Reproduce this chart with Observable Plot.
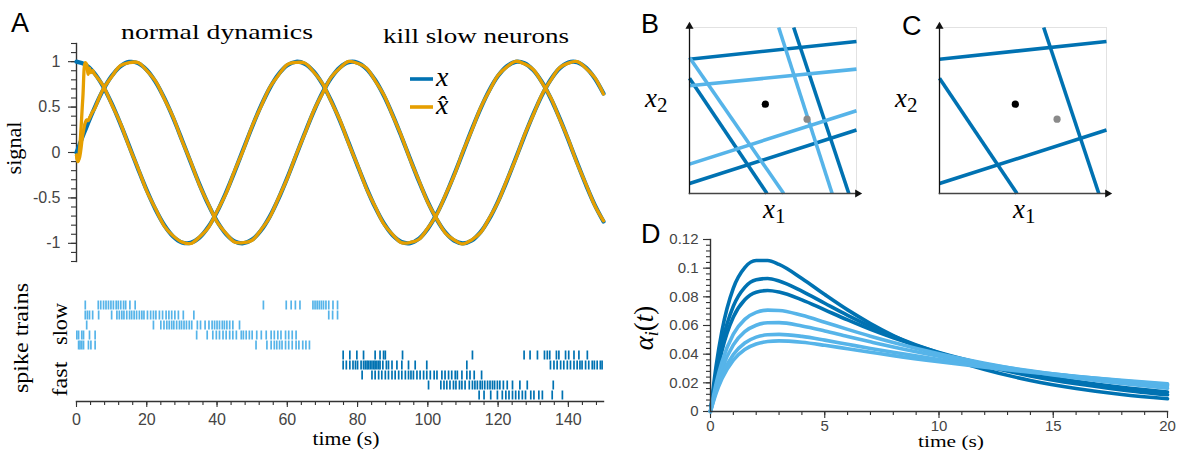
<!DOCTYPE html>
<html>
<head>
<meta charset="utf-8">
<script src="https://cdn.jsdelivr.net/npm/d3@7"></script>
<script src="https://cdn.jsdelivr.net/npm/@observablehq/plot@0.6"></script>
<style>
  body { margin: 0; background: #fff; }
  #fig { position: relative; width: 1181px; height: 450px; overflow: hidden; background: #fff; }
</style>
</head>
<body>
<div id="fig"></div>
<script>
// ---------- Panel A: signal and its readout ----------
const tSig = [0, 2.5, 5, 7.5, 10, 12.5, 15, 17.5, 20, 22.5, 25, 27.5, 30, 32.5, 35, 37.5, 40, 42.5, 45, 47.5,
  50, 52.5, 55, 57.5, 60, 62.5, 65, 67.5, 70, 72.5, 75, 77.5, 80, 82.5, 85, 87.5, 90, 92.5, 95, 97.5,
  100, 102.5, 105, 107.5, 110, 112.5, 115, 117.5, 120, 122.5, 125, 127.5, 130, 132.5, 135, 137.5, 140, 142.5, 145, 147.5, 150];

// x, first component
const xCos = [1, 0.969, 0.878, 0.732, 0.540, 0.315, 0.071, -0.178, -0.416, -0.628, -0.801, -0.924, -0.990, -0.994, -0.937, -0.821,
  -0.654, -0.446, -0.211, 0.038, 0.284, 0.512, 0.709, 0.861, 0.960, 0.999, 0.977, 0.893, 0.754, 0.568, 0.347, 0.104,
  -0.146, -0.386, -0.602, -0.781, -0.911, -0.985, -0.997, -0.948, -0.839, -0.678, -0.476, -0.243, 0.004, 0.252, 0.483,
  0.685, 0.844, 0.950, 0.998, 0.983, 0.907, 0.775, 0.595, 0.378, 0.137, -0.113, -0.355, -0.576, -0.760];
// x, second component
const xSin = [0, 0.247, 0.479, 0.682, 0.841, 0.949, 0.997, 0.984, 0.909, 0.778, 0.598, 0.382, 0.141, -0.108, -0.351, -0.572,
  -0.757, -0.895, -0.978, -0.999, -0.959, -0.859, -0.706, -0.508, -0.279, -0.033, 0.215, 0.450, 0.657, 0.823, 0.938, 0.995,
  0.989, 0.923, 0.798, 0.625, 0.412, 0.174, -0.075, -0.320, -0.544, -0.735, -0.880, -0.970, -1.000, -0.968, -0.876,
  -0.729, -0.537, -0.312, -0.066, 0.183, 0.420, 0.632, 0.804, 0.926, 0.991, 0.994, 0.935, 0.818, 0.650];

// network readout x-hat (initial transient, then tracking)
const tHat = [0, 0.4, 0.9, 1.8, 2.5, 2.9, 3.3, 3.7, 4.1, 4.6, 5, 7.5, 10, 12.5, 15, 17.5, 20, 22.5, 25, 27.5, 30, 32.5, 35, 37.5,
  40, 42.5, 45, 47.5, 50, 52.5, 55, 57.5, 60, 62.5, 65, 67.5, 70, 72.5, 75, 77.5, 80, 82.5, 85, 87.5, 90, 92.5, 95, 97.5,
  100, 102.5, 105, 107.5, 110, 112.5, 115, 117.5, 120, 122.5, 125, 127.5, 130, 132.5, 135, 137.5, 140, 142.5, 145, 147.5, 150];
const hatCos = [-0.03, -0.10, 0.05, 0.60, 0.99, 0.97, 0.86, 0.93, 0.88, 0.90,
  0.872, 0.741, 0.531, 0.322, 0.062, -0.171, -0.425, -0.620, -0.810, -0.918, -0.985, -1.002, -0.930, -0.829, -0.646,
  -0.455, -0.203, 0.030, 0.291, 0.505, 0.716, 0.853, 0.968, 0.992, 0.984, 0.886, 0.761, 0.560, 0.355, 0.096, -0.139,
  -0.394, -0.595, -0.789, -0.904, -0.992, -0.990, -0.955, -0.832, -0.686, -0.469, -0.251, 0.011, 0.244, 0.490, 0.678,
  0.851, 0.943, 1.004, 0.976, 0.914, 0.768, 0.602, 0.371, 0.144, -0.120, -0.348, -0.583, -0.752];
const hatSin = [-0.03, -0.10, -0.05, 0.20, 0.33, 0.36, 0.35, 0.38, 0.41, 0.45,
  0.471, 0.690, 0.834, 0.956, 0.990, 0.991, 0.902, 0.785, 0.591, 0.389, 0.134, -0.101, -0.358, -0.565, -0.764,
  -0.888, -0.985, -0.993, -0.966, -0.852, -0.713, -0.501, -0.286, -0.026, 0.208, 0.457, 0.650, 0.830, 0.931, 1.002,
  0.982, 0.930, 0.791, 0.632, 0.405, 0.181, -0.082, -0.313, -0.551, -0.728, -0.887, -0.963, -1.007, -0.961, -0.883,
  -0.722, -0.544, -0.305, -0.073, 0.190, 0.413, 0.639, 0.797, 0.933, 0.984, 1.001, 0.928, 0.825, 0.643];

const signalTicks = [-1, -0.5, 0, 0.5, 1];

// spike times (s), one array per neuron, slow population first
const slow1 = [2.5, 6.2, 6.9, 7.7, 8.4, 9.1, 9.8, 10.5, 11.3, 11.9, 12.6, 13.4, 14.0, 15.2, 16.7, 53.2, 59.7, 61.1, 62.3,
  63.6, 67.3, 67.9, 68.5, 69.1, 69.7, 70.3, 71.0, 71.8, 73.0, 74.3];
const slow2 = [2.5, 3.1, 3.7, 4.6, 6.3, 10.0, 11.5, 12.2, 12.9, 13.5, 14.3, 15.1, 15.7, 16.4, 17.1, 17.9, 18.6, 19.2, 20.2,
  21.1, 21.9, 22.6, 23.6, 24.5, 25.5, 26.3, 27.1, 28.0, 29.0, 30.4, 33.4, 71.8, 72.9, 74.3];
const slow3 = [2.9, 21.9, 24.0, 24.9, 25.7, 26.4, 27.1, 27.7, 28.5, 29.3, 29.9, 30.6, 31.3, 32.1, 32.8, 34.4, 35.3, 36.6,
  37.7, 38.6, 39.3, 40.0, 40.7, 41.5, 42.1, 42.8, 43.6, 44.5, 46.4];
const slow4 = [0.1, 0.6, 1.5, 2.0, 3.7, 5.3, 34.2, 37.2, 38.8, 39.8, 40.7, 41.7, 42.6, 43.6, 44.5, 45.5, 46.9, 47.5, 48.3,
  49.2, 50.0, 51.3, 52.6, 54.0, 55.4, 56.3, 57.3, 58.2, 59.5, 60.4, 61.4, 62.5];
const slow5 = [0.6, 1.0, 1.5, 2.0, 3.4, 4.1, 5.3, 51.1, 54.2, 55.4, 56.3, 57.0, 57.8, 58.5, 59.5, 60.4, 61.4, 62.5, 63.3,
  64.4, 65.3, 66.3];
const fast1 = [75.9, 77.8, 79.8, 81.7, 85.0, 86.4, 87.4, 87.9, 92.8, 112.7, 127.4, 129.1, 131.2, 133.2, 134.0, 134.7, 136.6,
  137.3, 139.2, 140.1, 141.6, 143.0, 145.4];
const fast2 = [75.9, 76.8, 77.8, 78.7, 79.4, 80.0, 81.0, 81.7, 82.2, 82.7, 83.1, 83.6, 84.1, 84.6, 85.0, 85.5, 86.0, 86.4,
  87.2, 88.2, 88.8, 89.8, 91.2, 92.6, 94.5, 96.4, 99.7, 111.1, 134.9, 135.9, 136.8, 137.8, 138.7, 139.7, 140.6, 141.6,
  142.5, 143.3, 143.9, 144.9, 145.8, 146.8, 147.4, 148.2, 149.1, 149.6];
const fast3 = [81.3, 84.1, 85.0, 86.0, 86.9, 87.9, 88.8, 89.8, 90.7, 91.7, 92.6, 93.6, 94.5, 95.2, 95.9, 96.9, 97.8, 98.8,
  99.7, 100.7, 101.8, 102.6, 104.0, 104.9, 105.9, 106.8, 107.8, 108.4, 109.7, 111.1, 112.0, 113.2, 115.3];
const fast4 = [100.2, 103.7, 104.6, 105.4, 106.3, 107.3, 108.0, 109.0, 109.7, 110.6, 111.8, 112.7, 113.4, 114.1, 114.9,
  115.5, 116.2, 117.0, 117.7, 118.4, 119.0, 119.8, 120.5, 121.5, 122.6, 124.1, 126.2, 128.3, 135.7];
const fast5 = [114.6, 116.0, 117.9, 119.8, 121.2, 122.2, 123.1, 124.1, 125.0, 125.9, 126.9, 127.8, 129.3, 130.2, 131.6,
  132.6, 135.4, 138.3];

const timeTicks = [0, 20, 40, 60, 80, 100, 120, 140];

// ---------- Panels B, C: neuron boundaries in the (x1, x2) plane ----------
const boundaryKind = ["fast", "fast", "fast", "fast", "slow", "slow", "slow", "slow"];
const boundaryX1 = [0, 0.624, 0, 0, 0, 0.534, 0, 0];
const boundaryY1 = [0.809, 1, 0.695, 0.06, 0.649, 1, 0.819, 0.177];
const boundaryX2 = [1, 0.954, 0.464, 1, 1, 0.854, 0.564, 1];
const boundaryY2 = [0.916, 0, 0, 0.382, 0.749, 0, 0, 0.498];
const stateX = [0.454, 0.704];   // signal, readout
const stateY = [0.538, 0.448];
const stateColor = ["#000000", "#8a8a8a"];

// ---------- Panel D: postsynaptic kernels ----------
const tAlpha = [0, 0.25, 0.5, 1, 1.5, 2, 2.5, 3, 4, 5, 6, 7, 8, 10, 12, 14, 16, 18, 20];
const alpha1 = [0, 0.0322, 0.0561, 0.0861, 0.1004, 0.1053, 0.1053, 0.1026, 0.0928, 0.0816, 0.0709, 0.0614, 0.0530, 0.0394, 0.0293, 0.0217, 0.0161, 0.0119, 0.0089];
const alpha2 = [0, 0.0272, 0.0476, 0.0735, 0.0866, 0.0919, 0.0928, 0.0911, 0.0840, 0.0755, 0.0671, 0.0594, 0.0525, 0.0409, 0.0319, 0.0248, 0.0193, 0.0151, 0.0117];
const alpha3 = [0, 0.0242, 0.0424, 0.0659, 0.0779, 0.0832, 0.0844, 0.0833, 0.0779, 0.0709, 0.0639, 0.0573, 0.0514, 0.0412, 0.0330, 0.0264, 0.0211, 0.0169, 0.0136];
const alpha4 = [0, 0.0197, 0.0346, 0.0540, 0.0643, 0.0692, 0.0707, 0.0705, 0.0671, 0.0623, 0.0573, 0.0525, 0.0481, 0.0402, 0.0336, 0.0280, 0.0234, 0.0195, 0.0162];
const alpha5 = [0, 0.0169, 0.0297, 0.0465, 0.0557, 0.0602, 0.0619, 0.0620, 0.0597, 0.0562, 0.0523, 0.0486, 0.0450, 0.0386, 0.0331, 0.0284, 0.0243, 0.0209, 0.0179];
const alpha6 = [0, 0.0145, 0.0255, 0.0398, 0.0478, 0.0519, 0.0535, 0.0538, 0.0524, 0.0498, 0.0469, 0.0440, 0.0413, 0.0363, 0.0318, 0.0279, 0.0245, 0.0215, 0.0188];
const alpha7 = [0, 0.0129, 0.0228, 0.0359, 0.0433, 0.0471, 0.0488, 0.0493, 0.0483, 0.0462, 0.0438, 0.0414, 0.0390, 0.0347, 0.0309, 0.0274, 0.0244, 0.0217, 0.0193];
const alphaKind = ["fast", "fast", "fast", "slow", "slow", "slow", "slow"];
const alphaTicks = [0, 0.02, 0.04, 0.06, 0.08, 0.1, 0.12];
const kernelTimeTicks = [0, 5, 10, 15, 20];

// ---------- styling ----------
const FAST = "#0072B2", SLOW = "#56B4E9", XHAT = "#E69F00", INK = "#333333", TICKTEXT = "#444444";
const SANS = '"Liberation Sans", Arial, Helvetica, sans-serif';
const SERIF = '"Liberation Serif", "Times New Roman", serif';
const kindColor = {domain: ["fast", "slow"], range: [FAST, SLOW]};
const fig = document.getElementById("fig");

function place(el, left, top) {
  el.style.position = "absolute";
  el.style.left = left + "px";
  el.style.top = top + "px";
  fig.appendChild(el);
}
function baseStyle(size) {
  return {fontFamily: SANS, fontSize: size + "px", color: INK, background: "transparent", overflow: "visible"};
}

// Panel A, upper: x and x-hat
place(Plot.plot({
  width: 620, height: 270,
  marginLeft: 76, marginRight: 17, marginTop: 43, marginBottom: 9,
  style: baseStyle(16),
  x: {domain: [0, 150], axis: null},
  y: {domain: [-1.2, 1.2]},
  marks: [
    Plot.axisY(d3.range(-12, 13).map(i => i / 10), {tickSize: 5, fill: "none", label: null, strokeWidth: 1.1}),
    Plot.axisY(signalTicks, {tickSize: 8, tickPadding: 8, tickFormat: d => String(d), label: null, strokeWidth: 1.1, fill: TICKTEXT}),
    Plot.frame({anchor: "left", strokeWidth: 1.4}),
    Plot.line(tSig, {x: tSig, y: xCos, stroke: FAST, strokeWidth: 4.2, curve: "catmull-rom"}),
    Plot.line(tSig, {x: tSig, y: xSin, stroke: FAST, strokeWidth: 4.2, curve: "catmull-rom"}),
    Plot.line(tHat, {x: tHat, y: hatCos, stroke: XHAT, strokeWidth: 3.3, curve: "catmull-rom"}),
    Plot.line(tHat, {x: tHat, y: hatSin, stroke: XHAT, strokeWidth: 3.3, curve: "catmull-rom"})
  ]
}), 0, 0);

// Panel A, lower: spike raster
const spikeRows = [slow1, slow2, slow3, slow4, slow5, fast1, fast2, fast3, fast4, fast5];
const spikes = spikeRows.flatMap((times, i) =>
  times.map(t => ({t, neuron: i + 1, kind: i < 5 ? "slow" : "fast"})));
place(Plot.plot({
  width: 620, height: 180,
  marginLeft: 76, marginRight: 17, marginTop: 29, marginBottom: 49,
  style: baseStyle(16),
  x: {domain: [0, 150]},
  y: {type: "band", domain: d3.range(1, 11), padding: 0, axis: null},
  color: kindColor,
  marks: [
    Plot.tickX(spikes, {x: "t", y: "neuron", stroke: "kind", strokeWidth: 1.7, insetTop: 0.5, insetBottom: 0.5}),
    Plot.axisX(d3.range(0, 150, 4), {tickSize: 4, fill: "none", label: null, strokeWidth: 1.1}),
    Plot.axisX(timeTicks, {tickSize: 6, tickPadding: 6, label: null, strokeWidth: 1.1, fill: TICKTEXT}),
    Plot.frame({anchor: "bottom", strokeWidth: 1.4})
  ]
}), 0, 270);

// Panels B and C: boundaries with the signal (black) and readout (grey) states
const boundaries = boundaryKind.map((kind, i) => ({
  kind, x1: boundaryX1[i], y1: boundaryY1[i], x2: boundaryX2[i], y2: boundaryY2[i]
}));
const states = stateX.map((x, i) => ({x, y: stateY[i], c: stateColor[i]}));
function statePlot(lines) {
  return Plot.plot({
    width: 250, height: 230,
    marginLeft: 59, marginRight: 24, marginTop: 27, marginBottom: 37,
    style: baseStyle(16),
    x: {domain: [0, 1], axis: null},
    y: {domain: [0, 1], axis: null},
    color: kindColor,
    marks: [
      Plot.frame({stroke: "#e2e2e2", strokeWidth: 1}),
      Plot.link(lines, {x1: "x1", y1: "y1", x2: "x2", y2: "y2", stroke: "kind", strokeWidth: 3.6}),
      Plot.dot(states, {x: "x", y: "y", fill: d => d.c, r: 3.6, stroke: null}),
      Plot.frame({anchor: "left", stroke: "#111", strokeWidth: 1.3}),
      Plot.frame({anchor: "bottom", stroke: "#444", strokeWidth: 1.6}),
      Plot.dot([{x: 0, y: 1}], {x: "x", y: "y", symbol: "triangle", r: 3, fill: "#111", stroke: null, dy: -1}),
      Plot.dot([{x: 1, y: 0}], {x: "x", y: "y", symbol: "triangle", r: 3, fill: "#111", stroke: null, rotate: 90, dx: 1})
    ]
  });
}
place(statePlot(boundaries), 630, 0);
place(statePlot(boundaries.filter(d => d.kind === "fast")), 880, 0);

// Panel D: kernels of fast (dark) and slow (light) neurons
const alphaSeries = [alpha1, alpha2, alpha3, alpha4, alpha5, alpha6, alpha7];
const kernels = alphaSeries.flatMap((vals, k) =>
  vals.map((v, i) => ({t: tAlpha[i], v, id: k, kind: alphaKind[k]})));
place(Plot.plot({
  width: 551, height: 230,
  marginLeft: 80, marginRight: 14, marginTop: 19, marginBottom: 39,
  style: baseStyle(15),
  x: {domain: [0, 20]},
  y: {domain: [0, 0.12]},
  color: kindColor,
  marks: [
    Plot.axisY(d3.range(0, 31).map(i => i * 0.004), {tickSize: 4, fill: "none", label: null, strokeWidth: 1.1}),
    Plot.axisY(alphaTicks, {tickSize: 7, tickPadding: 5, tickFormat: d => String(d), label: null, strokeWidth: 1.1, fill: TICKTEXT}),
    Plot.axisX(d3.range(0, 21), {tickSize: 4, fill: "none", label: null, strokeWidth: 1.1}),
    Plot.axisX(kernelTimeTicks, {tickSize: 7, tickPadding: 2, label: null, strokeWidth: 1.1, fill: TICKTEXT}),
    Plot.line(kernels, {x: "t", y: "v", z: "id", stroke: "kind", strokeWidth: 3.6, curve: "monotone-x"}),
    Plot.frame({anchor: "left", strokeWidth: 1.4}),
    Plot.frame({anchor: "bottom", strokeWidth: 1.4})
  ]
}), 630, 220);

// ---------- labels, panel letters and legend ----------
const overlay = d3.create("svg")
  .attr("width", 1181).attr("height", 450)
  .style("position", "absolute").style("left", "0px").style("top", "0px")
  .style("pointer-events", "none");

function label(str, {x, y, size, family = SERIF, anchor = "start", rotate = 0, fit, italic = false, fill = "#000"}) {
  const t = overlay.append("text")
    .attr("transform", `translate(${x},${y})` + (rotate ? ` rotate(${rotate})` : ""))
    .attr("text-anchor", anchor)
    .attr("font-family", family)
    .attr("font-size", size)
    .attr("font-style", italic ? "italic" : "normal")
    .attr("fill", fill)
    .text(str);
  if (fit) t.attr("textLength", fit).attr("lengthAdjust", "spacingAndGlyphs");
  return t;
}
function subscripted(base, sub, {x, y, size, subSize, shift, rotate = 0, anchor = "start", tail}) {
  const t = overlay.append("text")
    .attr("transform", `translate(${x},${y})` + (rotate ? ` rotate(${rotate})` : ""))
    .attr("text-anchor", anchor)
    .attr("font-family", SERIF)
    .attr("font-size", size)
    .attr("fill", "#000");
  t.append("tspan").attr("font-style", "italic").text(base);
  t.append("tspan").attr("font-size", subSize).attr("dy", shift)
    .attr("font-style", /[0-9]/.test(sub) ? "normal" : "italic").text(sub);
  if (tail) {
    t.append("tspan").attr("dy", -shift).text("(");
    t.append("tspan").attr("font-style", "italic").text(tail);
    t.append("tspan").text(")");
  }
  return t;
}

label("A", {x: 11, y: 32, size: 27, family: SANS});
label("B", {x: 641, y: 33, size: 27, family: SANS});
label("C", {x: 902, y: 35, size: 27, family: SANS});
label("D", {x: 641, y: 243, size: 27, family: SANS});

label("normal dynamics", {x: 217, y: 39, size: 21, anchor: "middle", fit: 192});
label("kill slow neurons", {x: 476, y: 43, size: 21, anchor: "middle", fit: 186});
label("signal", {x: 21, y: 148, size: 20, anchor: "middle", rotate: -90, fit: 53});
label("spike trains", {x: 28, y: 338, size: 21, anchor: "middle", rotate: -90, fit: 110});
label("slow", {x: 67, y: 324, size: 21, anchor: "middle", rotate: -90, fit: 42});
label("fast", {x: 67, y: 379, size: 21, anchor: "middle", rotate: -90, fit: 35});
label("time (s)", {x: 346, y: 445, size: 18, anchor: "middle", fit: 67});
label("time (s)", {x: 951, y: 447, size: 17, anchor: "middle", fit: 66});

subscripted("x", "2", {x: 645, y: 107, size: 27, subSize: 21, shift: 5});
subscripted("x", "1", {x: 763, y: 218, size: 27, subSize: 21, shift: 5});
subscripted("x", "2", {x: 895, y: 107, size: 27, subSize: 21, shift: 5});
subscripted("x", "1", {x: 1013, y: 218, size: 27, subSize: 21, shift: 5});
subscripted("\u03b1", "i", {x: 653, y: 328, size: 27, subSize: 18, shift: 5, rotate: -90, anchor: "middle", tail: "t"});

// legend
overlay.append("line").attr("x1", 410).attr("x2", 433).attr("y1", 79).attr("y2", 79)
  .attr("stroke", FAST).attr("stroke-width", 3.6);
overlay.append("line").attr("x1", 410).attr("x2", 433).attr("y1", 107).attr("y2", 107)
  .attr("stroke", XHAT).attr("stroke-width", 3.6);
label("x", {x: 436, y: 86, size: 28, italic: true});
label("x\u0302", {x: 436, y: 114, size: 28, italic: true});

fig.appendChild(overlay.node());
</script>
</body>
</html>
